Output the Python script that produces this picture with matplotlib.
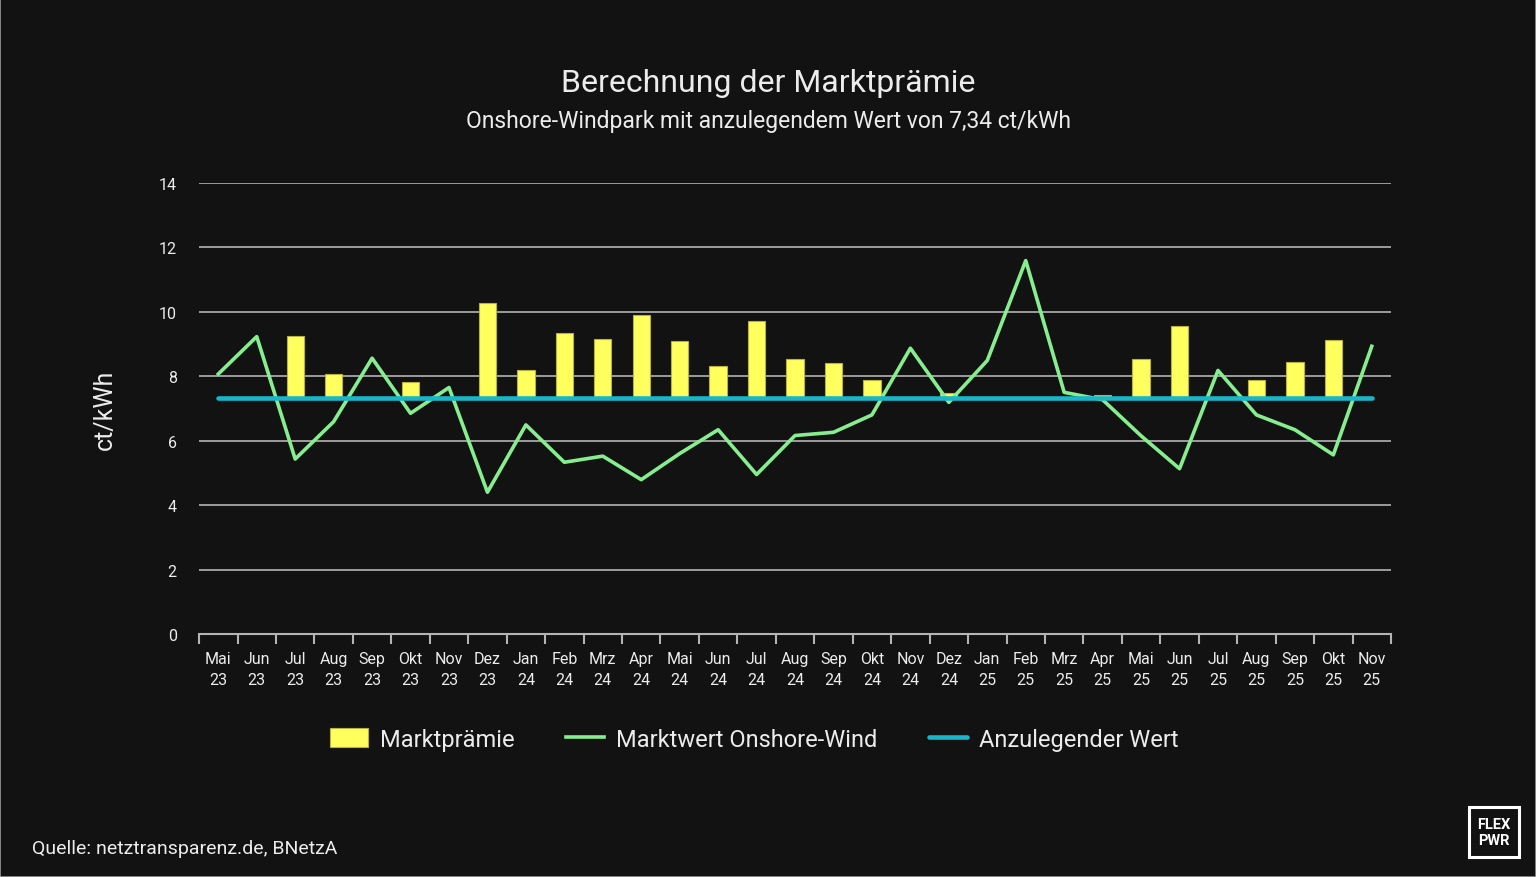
import numpy as np
import matplotlib.pyplot as plt
import matplotlib.ticker as ticker
from matplotlib.patches import Rectangle

plt.rcParams['font.family'] = ['Roboto', 'DejaVu Sans']

# Daten
monate = ['Mai', 'Jun', 'Jul', 'Aug', 'Sep', 'Okt', 'Nov', 'Dez',
          'Jan', 'Feb', 'Mrz', 'Apr', 'Mai', 'Jun', 'Jul', 'Aug', 'Sep', 'Okt', 'Nov', 'Dez',
          'Jan', 'Feb', 'Mrz', 'Apr', 'Mai', 'Jun', 'Jul', 'Aug', 'Sep', 'Okt', 'Nov']
jahre = ['23'] * 8 + ['24'] * 12 + ['25'] * 11
marktwert = [8.07, 9.23, 5.43, 6.59, 8.56, 6.85, 7.65, 4.40,
             6.49, 5.33, 5.52, 4.79, 5.60, 6.34, 4.95, 6.16, 6.26, 6.80, 8.87, 7.19,
             8.49, 11.59, 7.50, 7.27, 6.15, 5.13, 8.18, 6.80, 6.34, 5.56, 8.93]
marktpraemie = [0, 0, 1.90, 0.74, 0, 0.49, 0, 2.94,
                0.85, 2.01, 1.82, 2.55, 1.74, 0.99, 2.37, 1.19, 1.08, 0.54, 0, 0.15,
                0, 0, 0, 0.07, 1.19, 2.21, 0, 0.54, 1.09, 1.78, 0]
anzulegender_wert = 7.34

bg = '#121212'
txt = '#ececec'
grid = '#b4b4b4'
gelb = '#ffff5e'
gruen = '#86ee8f'
cyan = '#18b6c8'

fig = plt.figure(figsize=(15.36, 8.78), dpi=100, facecolor=bg)
fig.patches.append(Rectangle((0, 0), 1, 1, transform=fig.transFigure,
                             fill=False, edgecolor='#9a9a9a', linewidth=1.2))
ax = fig.add_axes([0.1296, 0.2768, 0.7760, 0.5137], facecolor=bg)

x = np.arange(len(monate))
# nur Monate mit Prämie als Balken
bx = [i for i, p in zip(x, marktpraemie) if p > 0]
bh = [p for p in marktpraemie if p > 0]
b = ax.bar(bx, bh, bottom=anzulegender_wert, width=0.45, color=gelb,
           edgecolor='#b8b040', linewidth=0.8, label='Marktprämie', zorder=3)
l1, = ax.plot(x, marktwert, color=gruen, linewidth=2.6, label='Marktwert Onshore-Wind', zorder=4)
l2, = ax.plot(x, [anzulegender_wert] * len(x), color=cyan, linewidth=3.3,
              solid_capstyle='round', label='Anzulegender Wert', zorder=5)

ax.set_xlim(-0.5, len(x) - 0.5)
ax.set_ylim(0, 14)
ax.yaxis.set_major_locator(ticker.MultipleLocator(2))
ax.grid(axis='y', color=grid, linewidth=1.2, zorder=0)
ax.set_axisbelow(True)
for s in ['top', 'right', 'left']:
    ax.spines[s].set_visible(False)
ax.spines['bottom'].set_color(grid)
ax.spines['bottom'].set_linewidth(1.5)

ax.set_xticks(x)
ax.set_xticklabels([f'{m}\n{j}' for m, j in zip(monate, jahre)], linespacing=1.5)
ax.set_xticks(np.arange(-0.5, len(x), 1), minor=True)
ax.tick_params(axis='x', which='major', length=0, pad=12, labelsize=11.5, colors=txt)
ax.tick_params(axis='x', which='minor', length=7, width=1.5, color=grid, direction='out')
ax.tick_params(axis='y', length=0, pad=16, labelsize=11.5, colors=txt)
ax.set_ylabel('ct/kWh', color=txt, fontsize=18, labelpad=30)

fig.text(0.5, 0.905, 'Berechnung der Marktprämie', ha='center', va='center',
         color=txt, fontsize=23)
fig.text(0.5, 0.862, 'Onshore-Windpark mit anzulegendem Wert von 7,34 ct/kWh',
         ha='center', va='center', color=txt, fontsize=16.5)

leg = fig.legend([b, l1, l2], ['Marktprämie', 'Marktwert Onshore-Wind', 'Anzulegender Wert'],
                 loc='center', bbox_to_anchor=(0.491, 0.157), ncol=3, frameon=False,
                 fontsize=17, handlelength=1.6, handleheight=0.9, columnspacing=2.2,
                 handletextpad=0.5)
for t in leg.get_texts():
    t.set_color(txt)

fig.text(0.021, 0.033, 'Quelle: netztransparenz.de, BNetzA', ha='left', va='center',
         color=txt, fontsize=14)

# Logo
fig.patches.append(Rectangle((1469 / 1536, 1 - 858 / 878), 50 / 1536, 50 / 878,
                             transform=fig.transFigure, fill=False,
                             edgecolor='white', linewidth=2.2))
fig.text(1494 / 1536, 1 - 833 / 878, 'FLEX\nPWR', ha='center', va='center',
         color='white', fontsize=10.5, fontweight='bold', linespacing=1.1)

fig.savefig('out.png', dpi=100, facecolor=bg)
